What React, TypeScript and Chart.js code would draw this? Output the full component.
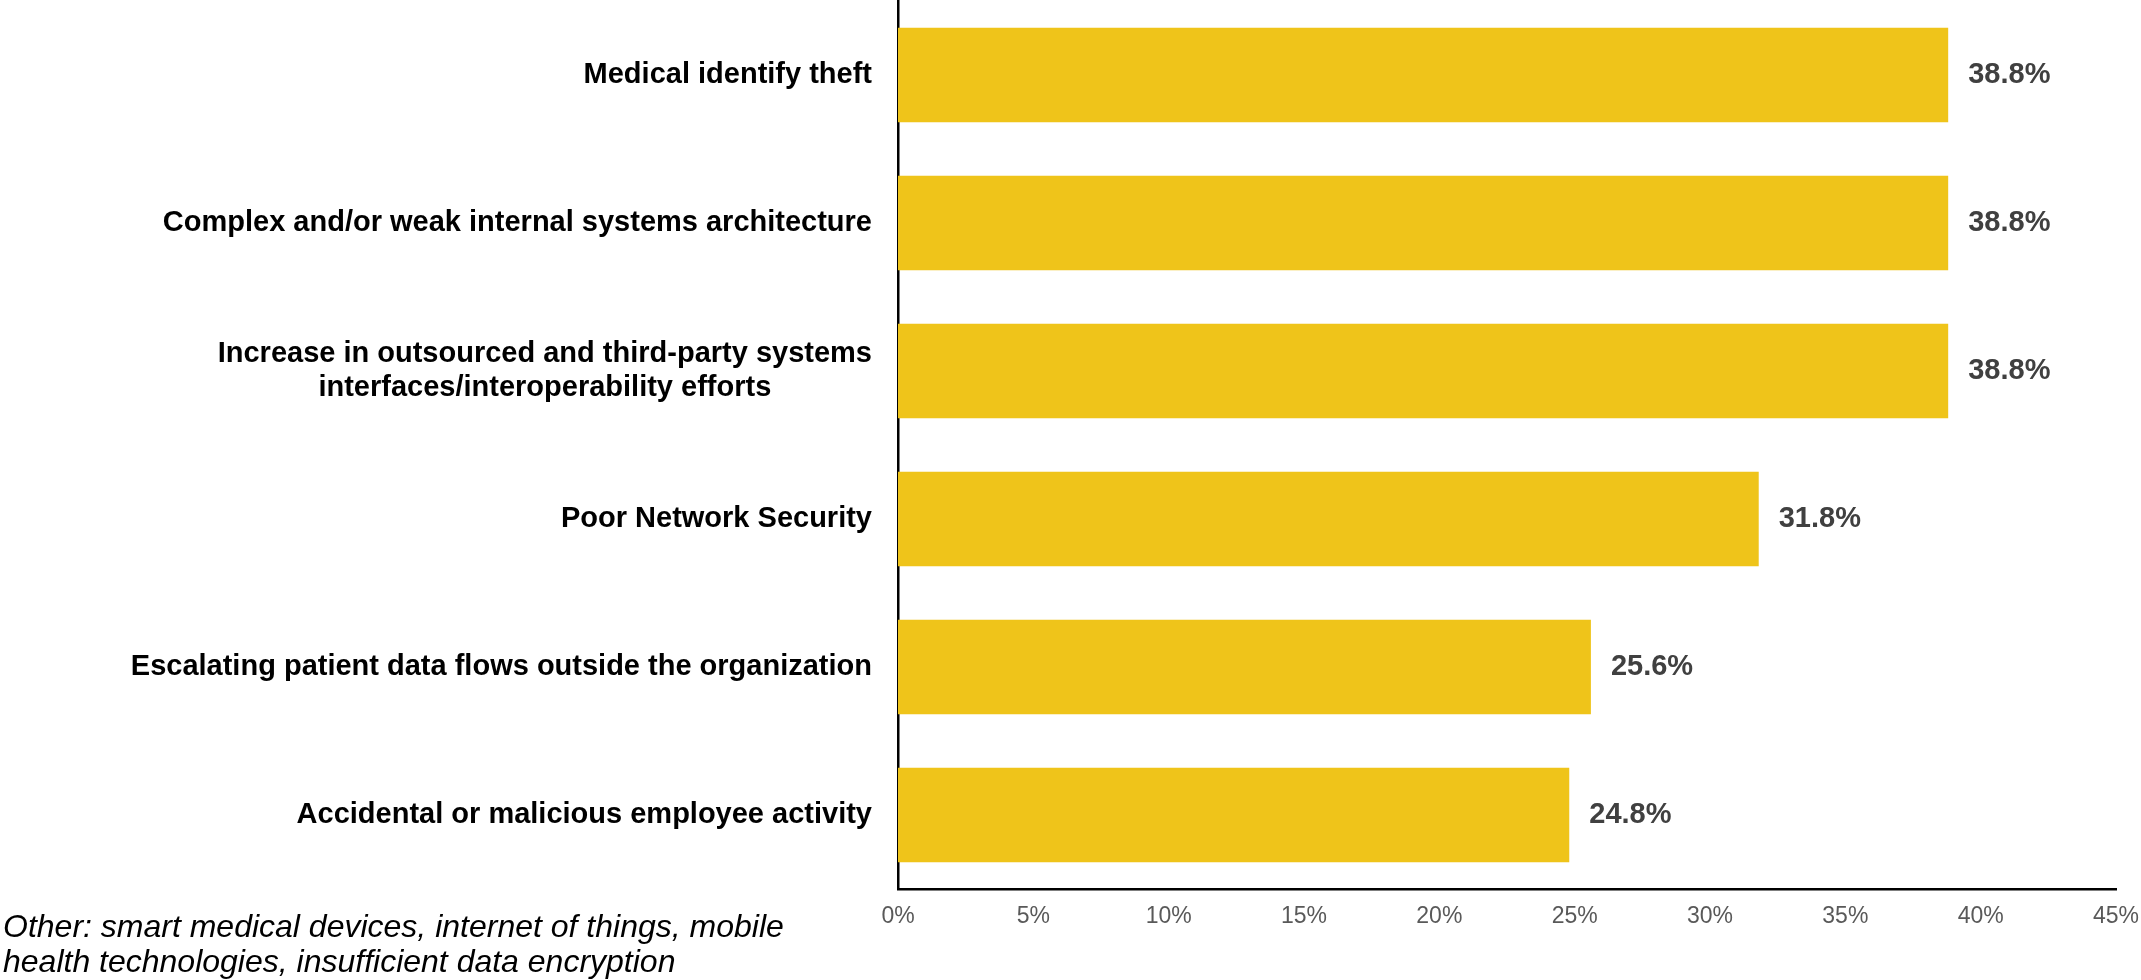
import React, { useEffect, useRef } from "react";
import { Chart, registerables } from "chart.js";

Chart.register(...registerables);

// ---- Data ----
const categories: string[][] = [
  ["Medical identify theft"],
  ["Complex and/or weak internal systems architecture"],
  ["Increase in outsourced and third-party systems", "interfaces/interoperability efforts"],
  ["Poor Network Security"],
  ["Escalating patient data flows outside the organization"],
  ["Accidental or malicious employee activity"],
];
const values: number[] = [38.8, 38.8, 38.8, 31.8, 25.6, 24.8];
const xMin = 0;
const xMax = 45;
const xStep = 5;
const footnote: string[] = [
  "Other: smart medical devices, internet of things, mobile",
  "health technologies, insufficient data encryption",
];

const FONT = '"Liberation Sans", Arial, Helvetica, sans-serif';
const BAR_COLOR = "#EFC41A";

const yLabelPlugin = {
  id: "yLabelPlugin",
  afterDraw(chart: any) {
    const { ctx, chartArea } = chart;
    const y = chart.scales.y;
    ctx.save();
    ctx.font = `bold 29px ${FONT}`;
    ctx.fillStyle = "#000000";
    ctx.textBaseline = "middle";
    ctx.textAlign = "center";
    const right = chartArea.left - 26;
    const lh = 34;
    categories.forEach((lines, i) => {
      const cy = y.getPixelForValue(i);
      const maxW = Math.max(...lines.map((l) => ctx.measureText(l).width));
      const cx = right - maxW / 2;
      lines.forEach((l, j) => {
        ctx.fillText(l, cx, cy + (j - (lines.length - 1) / 2) * lh);
      });
    });
    ctx.restore();
  },
};

const valueLabelPlugin = {
  id: "valueLabelPlugin",
  afterDatasetsDraw(chart: any) {
    const { ctx } = chart;
    const meta = chart.getDatasetMeta(0);
    ctx.save();
    ctx.font = `bold 29px ${FONT}`;
    ctx.fillStyle = "#404040";
    ctx.textBaseline = "middle";
    ctx.textAlign = "left";
    meta.data.forEach((bar: any, i: number) => {
      ctx.fillText(values[i].toFixed(1) + "%", bar.x + 20, bar.y);
    });
    ctx.restore();
  },
};

const footnotePlugin = {
  id: "footnotePlugin",
  afterDraw(chart: any) {
    const { ctx } = chart;
    ctx.save();
    ctx.font = `italic 32px ${FONT}`;
    ctx.fillStyle = "#000000";
    ctx.textBaseline = "alphabetic";
    ctx.textAlign = "left";
    footnote.forEach((line, i) => {
      ctx.fillText(line, 3, 937 + i * 35);
    });
    ctx.restore();
  },
};

export default function App() {
  const canvasRef = useRef<HTMLCanvasElement | null>(null);

  useEffect(() => {
    if (!canvasRef.current) return;
    const chart = new Chart(canvasRef.current, {
      type: "bar",
      data: {
        labels: categories.map((c) => c.join(" ")),
        datasets: [
          {
            data: values,
            backgroundColor: BAR_COLOR,
            borderWidth: 0,
            barPercentage: 0.64,
            categoryPercentage: 1,
          },
        ],
      },
      options: {
        indexAxis: "y",
        responsive: false,
        animation: false,
        layout: { padding: { top: 1, right: 25, left: 0, bottom: 0 } },
        plugins: {
          legend: { display: false },
          tooltip: { enabled: false },
          title: { display: false },
        },
        scales: {
          x: {
            type: "linear",
            min: xMin,
            max: xMax,
            grid: { display: false, drawTicks: false },
            border: { display: true, color: "#000000", width: 2.5 },
            ticks: {
              stepSize: xStep,
              color: "#595959",
              font: { family: FONT, size: 23 },
              padding: 14,
              maxRotation: 0,
              callback: (v: any) => v + "%",
            },
            afterFit: (scale: any) => {
              scale.height = 91;
              scale.paddingLeft = 0;
              scale.paddingRight = 0;
            },
          },
          y: {
            type: "category",
            grid: { display: false, drawTicks: false },
            border: { display: true, color: "#000000", width: 2.5 },
            ticks: { display: false },
            afterFit: (scale: any) => {
              scale.width = 898;
              scale.paddingTop = 0;
              scale.paddingBottom = 0;
            },
          },
        },
      },
      plugins: [yLabelPlugin, valueLabelPlugin, footnotePlugin],
    });
    return () => chart.destroy();
  }, []);

  return (
    <div style={{ position: "absolute", left: 0, top: 0, width: 2141, height: 980, background: "#ffffff" }}>
      <canvas ref={canvasRef} width={2141} height={980} style={{ display: "block" }} />
    </div>
  );
}
